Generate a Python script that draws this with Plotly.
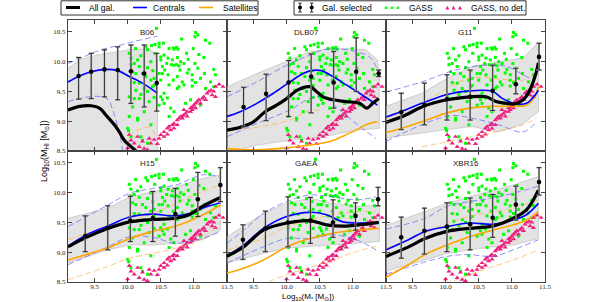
import plotly.graph_objects as go
from plotly.subplots import make_subplots

MODELS = ["B06", "DLB07", "G11", "H15", "GAEA", "XBR16"]
X_TICKS = [9.5, 10.0, 10.5, 11.0, 11.5]
X_TICKTEXT = ["9.5", "10.0", "10.5", "11.0", "11.5"]
Y_TICKS = [8.5, 9.0, 9.5, 10.0, 10.5]
Y_TICKTEXT = ["8.5", "9.0", "9.5", "10.0", "10.5"]

# ---- model curves: (log M*, log MHI) pairs ----
B06 = {
    "all": [(9.1, 9.19), (9.275, 9.25), (9.45, 9.26), (9.575, 9.22), (9.675, 9.10), (9.8, 8.94), (9.875, 8.82),
            (9.95, 8.68), (10.025, 8.6), (10.125, 8.5), (10.2, 8.42)],
    "cen": [(9.1, 9.66), (9.275, 9.76), (9.45, 9.83), (9.65, 9.87), (9.85, 9.85), (10.025, 9.75), (10.225, 9.64), (10.45, 9.47)],
    "sat": [],
    "cen_hi": [(9.1, 9.97), (9.3, 10.06), (9.5, 10.16), (9.7, 10.23), (9.9, 10.28), (10.1, 10.34), (10.3, 10.39), (10.45, 10.43)],
    "cen_lo": [(9.1, 9.33), (9.275, 9.38), (9.525, 9.42), (9.7, 9.37), (9.775, 9.19), (9.85, 8.91), (9.9, 8.68), (9.93, 8.45)],
    "sat_hi": [(9.925, 8.63), (10.075, 8.8), (10.175, 8.86), (10.3, 8.9), (10.375, 8.85), (10.425, 8.74)],
    "sat_lo": [],
    "band_hi": [(9.1, 9.89), (9.275, 10.03), (9.525, 10.11), (9.83, 10.17), (10.025, 10.2), (10.325, 10.22), (10.4, 10.14), (10.45, 10.03)],
    "band_lo": [(9.1, 8.45), (10.45, 8.45)],
}
DLB07 = {
    "all": [(9.1, 8.85), (9.3, 8.9), (9.5, 8.99), (9.675, 9.16), (9.85, 9.27), (10.0, 9.38), (10.175, 9.53), (10.35, 9.58),
            (10.45, 9.5), (10.55, 9.41), (10.7, 9.36), (10.9, 9.33), (11.1, 9.30), (11.21, 9.22), (11.3, 9.30), (11.39, 9.38)],
    "cen": [(9.1, 9.08), (9.3, 9.16), (9.55, 9.30), (9.8, 9.47), (10.05, 9.66), (10.25, 9.80), (10.37, 9.85), (10.52, 9.85),
            (10.7, 9.75), (10.9, 9.61), (11.1, 9.47), (11.25, 9.36), (11.37, 9.27)],
    "sat": [(9.1, 8.54), (9.55, 8.52), (10.05, 8.56), (10.35, 8.6), (10.65, 8.66), (10.95, 8.80), (11.25, 8.96), (11.37, 8.99)],
    "cen_hi": [(9.1, 9.41), (9.55, 9.66), (10.05, 9.97), (10.35, 10.11), (10.55, 10.2), (10.8, 10.21), (11.05, 10.17),
               (11.25, 10.08), (11.35, 9.92), (11.4, 9.69)],
    "cen_lo": [(9.1, 8.74), (9.55, 8.96), (10.05, 9.19), (10.35, 9.38), (10.55, 9.41), (10.75, 9.24), (11.05, 8.96), (11.35, 8.71)],
    "sat_hi": [(9.1, 8.85), (9.55, 8.9), (10.05, 9.02), (10.3, 9.16), (10.5, 9.19)],
    "sat_lo": [],
    "band_hi": [(9.1, 9.58), (9.55, 9.8), (10.05, 10.03), (10.35, 10.17), (10.65, 10.22), (10.95, 10.22), (11.2, 10.2),
                (11.37, 10.03), (11.4, 9.8)],
    "band_lo": [(9.1, 8.46), (9.55, 8.6), (10.05, 8.68), (10.55, 8.74), (11.05, 8.85), (11.4, 8.88)],
}
G11 = {
    "all": [(9.1, 8.98), (9.39, 9.10), (9.64, 9.24), (10.02, 9.36), (10.36, 9.41), (10.61, 9.41), (10.76, 9.33), (10.92, 9.30),
            (11.04, 9.29), (11.17, 9.36), (11.27, 9.52), (11.37, 9.83), (11.4, 9.98)],
    "cen": [(9.1, 9.07), (9.39, 9.19), (9.64, 9.30), (10.02, 9.45), (10.36, 9.51), (10.71, 9.5), (10.86, 9.38), (11.07, 9.29),
            (11.22, 9.30), (11.33, 9.41), (11.4, 9.52)],
    "sat": [(9.1, 8.81), (9.39, 8.9), (9.64, 8.99), (10.02, 9.14), (10.36, 9.22), (10.66, 9.25), (11.02, 9.25), (11.22, 9.27),
            (11.33, 9.38), (11.4, 9.58)],
    "cen_hi": [(9.1, 9.49), (9.64, 9.66), (10.15, 9.86), (10.61, 9.94), (10.92, 9.92), (11.22, 9.75), (11.3, 9.72), (11.4, 9.8)],
    "cen_lo": [(9.1, 8.66), (10.05, 9.09), (10.4, 9.05), (10.8, 8.94), (11.17, 8.82), (11.37, 8.99)],
    "sat_hi": [(9.1, 9.04), (9.64, 9.3), (10.36, 9.72), (11.17, 9.69), (11.35, 9.8)],
    "sat_lo": [(9.64, 8.57), (10.4, 8.74), (11.17, 8.94), (11.37, 9.05)],
    "band_hi": [(9.1, 9.25), (9.64, 9.47), (10.02, 9.72), (10.4, 9.92), (10.8, 10.0), (11.17, 10.06), (11.33, 10.25), (11.4, 10.31)],
    "band_lo": [(9.1, 8.72), (10.02, 8.86), (10.4, 8.91), (10.8, 8.82), (11.17, 8.96), (11.4, 9.16)],
}
H15 = {
    "all": [(9.1, 9.09), (9.375, 9.25), (9.7, 9.4), (10.03, 9.51), (10.38, 9.55), (10.73, 9.57), (10.93, 9.63), (11.13, 9.77), (11.4, 9.92)],
    "cen": [(9.1, 9.1), (9.375, 9.29), (9.7, 9.44), (10.03, 9.59), (10.38, 9.64), (10.68, 9.61), (10.93, 9.65), (11.13, 9.74), (11.4, 9.83)],
    "sat": [(9.1, 8.87), (9.375, 8.96), (9.7, 9.07), (10.03, 9.23), (10.38, 9.35), (10.73, 9.44), (11.03, 9.57), (11.4, 9.79)],
    "cen_hi": [(9.1, 9.43), (9.7, 9.79), (10.03, 9.99), (10.38, 10.07), (10.73, 10.13), (11.13, 10.3), (11.38, 10.27)],
    "cen_lo": [(9.1, 8.79), (9.7, 9.09), (10.03, 9.26), (10.38, 9.25), (10.73, 9.15), (11.13, 9.23), (11.4, 9.35)],
    "sat_hi": [(9.1, 9.21), (9.7, 9.43), (10.38, 9.65), (10.78, 9.85), (11.13, 10.02), (11.4, 10.13)],
    "sat_lo": [(9.1, 8.54), (9.7, 8.76), (10.03, 8.9), (10.38, 8.98), (10.73, 9.07), (11.13, 9.23), (11.4, 9.51)],
    "band_hi": [(9.1, 9.57), (9.7, 9.74), (10.03, 9.93), (10.38, 10.02), (10.73, 10.1), (11.13, 10.24), (11.4, 10.3)],
    "band_lo": [(9.1, 8.82), (9.7, 9.04), (10.03, 9.12), (10.38, 9.12), (10.73, 9.15), (11.13, 9.21), (11.4, 9.37)],
}
GAEA = {
    "all": [(9.1, 8.93), (9.35, 9.09), (9.65, 9.37), (10.0, 9.49), (10.35, 9.53), (10.6, 9.46), (10.9, 9.44), (11.39, 9.5)],
    "cen": [(9.1, 8.94), (9.35, 9.12), (9.65, 9.4), (10.0, 9.6), (10.35, 9.67), (10.6, 9.63), (10.85, 9.51), (11.1, 9.49), (11.39, 9.5)],
    "sat": [(9.1, 8.65), (9.35, 8.73), (9.65, 8.87), (10.0, 9.09), (10.35, 9.23), (10.7, 9.32), (11.05, 9.37), (11.39, 9.4)],
    "cen_hi": [(9.1, 9.15), (9.35, 9.37), (9.65, 9.65), (10.0, 9.85), (10.35, 9.96), (10.7, 9.93), (11.05, 9.88), (11.35, 9.93)],
    "cen_lo": [(9.1, 8.82), (9.65, 9.09), (10.0, 9.23), (10.35, 9.23), (10.7, 9.29), (11.05, 9.21), (11.35, 9.04)],
    "sat_hi": [(9.1, 9.04), (9.65, 9.23), (10.0, 9.43), (10.7, 9.63), (11.05, 9.68), (11.35, 9.68)],
    "sat_lo": [(9.6, 8.45), (10.0, 8.62), (10.7, 8.87), (11.05, 9.01), (11.35, 9.1)],
    "band_hi": [(9.1, 9.26), (9.65, 9.65), (10.0, 9.82), (10.35, 9.91), (10.7, 9.82), (11.05, 9.77), (11.4, 9.79)],
    "band_lo": [(9.1, 8.82), (9.65, 8.98), (10.0, 9.07), (10.35, 9.09), (10.7, 9.12), (11.05, 9.15), (11.4, 9.18)],
}
XBR16 = {
    "all": [(9.1, 8.93), (9.44, 9.09), (9.69, 9.23), (10.02, 9.35), (10.36, 9.4), (10.66, 9.43), (10.81, 9.47), (11.02, 9.57),
            (11.22, 9.71), (11.4, 10.04)],
    "cen": [(9.1, 9.04), (9.44, 9.21), (9.69, 9.35), (10.02, 9.43), (10.36, 9.49), (10.71, 9.47), (11.02, 9.54), (11.22, 9.63), (11.4, 9.82)],
    "sat": [(9.1, 8.58), (9.44, 8.79), (9.69, 8.96), (10.02, 9.12), (10.36, 9.26), (10.71, 9.37), (11.02, 9.46), (11.22, 9.54), (11.4, 9.68)],
    "cen_hi": [(9.1, 9.39), (9.69, 9.57), (10.02, 9.77), (10.36, 9.85), (10.71, 9.91), (11.02, 9.99), (11.4, 10.11)],
    "cen_lo": [(9.1, 8.63), (10.02, 8.93), (10.36, 8.96), (10.71, 8.93), (11.02, 9.04), (11.4, 9.21)],
    "sat_hi": [(9.1, 9.06), (9.69, 9.32), (10.02, 9.49), (10.36, 9.6), (10.71, 9.68), (11.02, 9.74), (11.4, 9.88)],
    "sat_lo": [(10.0, 8.47), (10.36, 8.62), (10.71, 8.76), (11.02, 8.87), (11.4, 9.04)],
    "band_hi": [(9.1, 9.45), (9.69, 9.68), (10.02, 9.82), (10.36, 9.93), (10.71, 10.04), (11.02, 10.13), (11.4, 10.27)],
    "band_lo": [(9.1, 8.68), (9.69, 8.87), (10.02, 8.98), (10.36, 9.04), (10.71, 9.09), (11.02, 9.12), (11.4, 9.23)],
}

# ---- "Gal. selected" medians with error bars ----
B06_SEL = {"x": [9.26, 9.45, 9.65, 9.85, 10.05, 10.25, 10.44], "y": [9.76, 9.83, 9.87, 9.86, 9.84, 9.80, 9.64],
           "hi": [10.07, 10.14, 10.2, 10.25, 10.28, 10.28, 10.14], "lo": [9.37, 9.38, 9.41, 9.36, 9.30, 9.24, 9.17]}
DLB07_SEL = {"x": [9.35, 9.69, 10.03, 10.37, 10.71, 11.05, 11.39], "y": [9.24, 9.46, 9.65, 9.75, 9.65, 9.83, 9.80],
             "hi": [9.57, 9.79, 10.02, 10.13, 10.17, 10.4, 9.86], "lo": [8.91, 9.01, 9.08, 9.14, 9.22, 9.5, 9.75]}
G11_SEL = {"x": [9.33, 9.68, 10.02, 10.37, 10.71, 11.06, 11.41], "y": [9.15, 9.27, 9.37, 9.41, 9.51, 9.62, 10.08],
           "hi": [9.47, 9.64, 9.78, 9.86, 9.94, 9.89, 10.31], "lo": [8.86, 8.94, 9.02, 9.02, 9.18, 9.46, 9.86]}
H15_SEL = {"x": [9.36, 9.70, 10.04, 10.38, 10.72, 11.06, 11.40], "y": [9.27, 9.41, 9.53, 9.57, 9.64, 9.89, 10.13],
           "hi": [9.61, 9.78, 9.94, 10.02, 10.07, 10.34, 10.42], "lo": [9.01, 9.04, 9.18, 9.18, 9.27, 9.6, 9.85]}
GAEA_SEL = {"x": [9.34, 9.68, 10.02, 10.36, 10.70, 11.04, 11.38], "y": [9.21, 9.40, 9.50, 9.53, 9.50, 9.61, 9.89],
            "hi": [9.46, 9.69, 9.93, 9.92, 9.88, 9.83, 10.09], "lo": [8.88, 9.01, 9.09, 9.15, 9.25, 9.37, 9.78]}
XBR16_SEL = {"x": [9.33, 9.68, 10.02, 10.37, 10.71, 11.06, 11.41], "y": [9.25, 9.36, 9.43, 9.47, 9.58, 9.80, 10.18],
             "hi": [9.59, 9.74, 9.83, 9.91, 9.97, 10.11, 10.42], "lo": [8.90, 8.97, 9.01, 9.04, 9.25, 9.54, 9.96]}

# ---- GASS detections (same in every panel) ----
GASS = [
    (10.435, 10.56), (11.025, 10.49), (11.06, 10.45), (11.015, 10.42), (10.815, 10.38), (11.175, 10.36), (11.24, 10.31),
    (10.415, 10.29), (10.475, 10.31), (10.54, 10.31), (10.36, 10.27), (10.275, 10.25), (10.625, 10.22), (10.69, 10.23),
    (10.74, 10.24), (10.76, 10.21), (10.70, 10.21), (10.99, 10.22), (10.41, 10.14), (10.55, 10.11), (10.89, 10.14),
    (11.075, 10.12), (10.5, 10.08), (10.61, 10.06), (10.675, 10.03), (10.75, 10.07), (10.8, 10.0), (10.915, 10.04),
    (11.15, 10.07), (10.66, 9.95), (10.7, 9.94), (10.74, 9.95), (10.775, 9.93), (10.85, 9.97), (10.525, 9.92),
    (10.59, 9.97), (11.015, 9.97), (10.56, 9.86), (10.79, 9.86), (10.925, 9.87), (11.06, 9.89), (11.3, 9.87),
    (10.475, 9.8), (10.61, 9.78), (10.75, 9.75), (10.9, 9.81), (10.975, 9.78), (11.16, 9.8), (11.325, 9.78),
    (10.4, 9.72), (10.5, 9.69), (10.69, 9.69), (10.825, 9.66), (10.975, 9.69), (11.025, 9.65), (11.1, 9.72),
    (11.25, 9.66), (10.375, 9.58), (10.625, 9.61), (10.775, 9.58), (10.85, 9.61), (10.975, 9.59), (11.175, 9.55),
    (11.3, 9.58), (10.025, 10.14), (10.05, 10.06), (10.1, 9.97), (10.15, 10.03), (10.175, 9.92), (10.075, 9.83),
    (10.125, 9.8), (10.225, 9.8), (10.275, 9.75), (10.35, 9.69), (10.175, 9.64), (10.25, 9.55), (10.125, 9.52),
    (10.3, 9.5), (10.025, 9.41), (10.175, 9.38), (10.325, 9.33), (10.075, 9.24), (10.25, 9.16), (10.025, 9.08),
    (10.15, 9.02), (10.015, 8.84), (10.05, 8.74), (10.225, 8.68), (10.3, 8.63), (10.475, 10.25), (10.5, 10.03),
    (10.525, 9.8), (10.5, 9.41), (10.55, 9.3), (10.625, 9.08), (10.475, 9.27), (10.525, 9.36), (10.6, 9.39),
    (10.65, 9.22), (10.7, 9.16), (10.875, 9.3), (10.95, 9.36), (10.825, 9.08), (11.1, 9.27), (10.0, 8.88),
    (10.15, 9.05), (10.1, 9.38), (10.35, 8.94), (10.2, 8.74), (10.55, 9.47), (10.75, 9.55), (10.05, 9.95),
    (10.2, 10.1), (10.3, 9.9), (10.35, 10.0), (10.4, 9.6), (10.1, 9.65), (10.2, 9.45), (10.4, 9.4), (10.3, 10.2),
    (10.12, 10.22), (10.38, 9.85),
]
# ---- GASS non-detections (upper limits) ----
GASS_NODET = [
    (10.025, 8.77), (10.05, 8.68), (10.1, 8.63), (10.175, 8.57), (10.225, 8.66), (10.25, 8.54), (10.325, 8.71),
    (10.35, 8.63), (10.4, 8.69), (10.15, 8.74), (10.475, 8.71), (10.5, 8.77), (10.55, 8.82), (10.6, 8.88),
    (10.625, 8.91), (10.675, 8.94), (10.7, 8.96), (10.75, 9.02), (10.775, 9.05), (10.8, 9.08), (10.84, 9.1),
    (10.875, 9.13), (10.825, 9.05), (10.9, 9.16), (10.95, 9.22), (10.975, 9.24), (11.0, 9.27), (11.025, 9.3),
    (11.05, 9.33), (10.975, 9.19), (11.075, 9.36), (11.125, 9.38), (11.15, 9.41), (11.2, 9.47), (11.225, 9.5),
    (11.26, 9.52), (11.3, 9.5), (11.325, 9.41), (11.275, 9.44), (11.025, 9.22), (10.95, 9.16), (10.9, 9.08),
    (10.75, 8.94), (10.65, 8.85), (10.55, 8.74), (10.85, 9.19), (11.175, 9.36), (11.44, 9.58), (11.33, 9.58),
    (11.38, 9.62), (10.45, 8.62), (10.3, 8.52), (10.0, 8.55), (10.6, 8.78), (10.7, 8.88), (11.1, 9.3),
]

CURVE_SETS = [B06, DLB07, G11, H15, GAEA, XBR16]
SEL_SETS = [B06_SEL, DLB07_SEL, G11_SEL, H15_SEL, GAEA_SEL, XBR16_SEL]

BLACK = "#000000"
BLUE = "#0000ff"
ORANGE = "#ffa500"
LBLUE = "rgba(90,90,255,0.75)"
LORANGE = "rgba(255,175,60,0.75)"
GREEN = "#00ff00"
PINK = "#f0207f"
SANS = "Liberation Sans, Arial, sans-serif"

W, H = 598, 302
ML, MR, MT, MB = 68, 53, 20, 20


def PX(p):
    return (p - ML) / (W - ML - MR)


def PY(p):
    return (H - MB - p) / (H - MT - MB)


def xy(pairs):
    return [p[0] for p in pairs], [p[1] for p in pairs]


fig = make_subplots(rows=2, cols=3, horizontal_spacing=0, vertical_spacing=0)

gx, gy = xy(GASS)
nx, ny = xy(GASS_NODET)

for i, (name, d, s) in enumerate(zip(MODELS, CURVE_SETS, SEL_SETS)):
    r, c = i // 3 + 1, i % 3 + 1
    hx, hy = xy(d["band_hi"])
    lx, ly = xy(d["band_lo"])
    fig.add_trace(go.Scatter(x=hx + lx[::-1], y=hy + ly[::-1], mode="lines", fill="toself",
                             fillcolor="rgba(200,200,200,0.5)", line=dict(color="rgba(170,170,170,0.7)", width=0.7),
                             hoverinfo="skip"), r, c)
    fig.add_trace(go.Scatter(x=gx, y=gy, mode="markers", name="GASS",
                             marker=dict(color=GREEN, size=3, symbol="square", line=dict(width=0))), r, c)
    fig.add_trace(go.Scatter(x=nx, y=ny, mode="markers", name="GASS, no det.",
                             marker=dict(color=PINK, size=4.6, symbol="triangle-up", line=dict(width=0))), r, c)
    for key, col in (("cen_hi", LBLUE), ("cen_lo", LBLUE), ("sat_hi", LORANGE), ("sat_lo", LORANGE)):
        if d[key]:
            x, y = xy(d[key])
            fig.add_trace(go.Scatter(x=x, y=y, mode="lines", hoverinfo="skip",
                                     line=dict(color=col, width=0.9, dash="6px,3px", shape="spline")), r, c)
    for key, col, w, lab in (("sat", ORANGE, 1.6, "Satellites"), ("cen", BLUE, 1.6, "Centrals"),
                             ("all", BLACK, 3.2, "All gal.")):
        if d[key]:
            x, y = xy(d[key])
            fig.add_trace(go.Scatter(x=x, y=y, mode="lines", name=lab,
                                     line=dict(color=col, width=w, shape="spline")), r, c)
    ep = [h - m for h, m in zip(s["hi"], s["y"])]
    em = [m - l for m, l in zip(s["y"], s["lo"])]
    fig.add_trace(go.Scatter(x=s["x"], y=s["y"], mode="markers", hoverinfo="skip",
                             marker=dict(color="rgba(0,0,0,0)", size=1),
                             error_y=dict(type="data", symmetric=False, array=ep, arrayminus=em,
                                          color="#b4b4b4", thickness=1.8, width=2.5)), r, c)
    fig.add_trace(go.Scatter(x=s["x"], y=s["y"], mode="markers", name="Gal. selected",
                             marker=dict(color=BLACK, size=4.6, symbol="circle"),
                             error_y=dict(type="data", symmetric=False, array=ep, arrayminus=em,
                                          color="#222222", thickness=0.9, width=2.5)), r, c)
    fig.add_annotation(text=name, xref="x domain" if i == 0 else f"x{i+1} domain",
                       yref="y domain" if i == 0 else f"y{i+1} domain", x=0.5, y=0.905,
                       xanchor="center", yanchor="middle",
                       showarrow=False, font=dict(family=SANS, size=8, color="#222"))

tickfont = dict(family="Liberation Serif, DejaVu Serif, serif", size=7, color="#222")
for i in range(6):
    r, c = i // 3 + 1, i % 3 + 1
    fig.update_xaxes(range=[9.1, 11.5], tickvals=X_TICKS, ticktext=X_TICKTEXT, ticks="inside", ticklen=4,
                     tickcolor="#444", showline=True, linecolor="#444", linewidth=1, mirror="ticks",
                     showgrid=False, zeroline=False, showticklabels=(r == 2), tickfont=tickfont,
                     ticklabelstandoff=-2, row=r, col=c)
    fig.update_yaxes(range=[8.5, 10.7], tickvals=Y_TICKS, ticktext=Y_TICKTEXT, ticks="inside", ticklen=4,
                     tickcolor="#444", showline=True, linecolor="#444", linewidth=1, mirror="ticks",
                     showgrid=False, zeroline=False, showticklabels=(c == 1), tickfont=tickfont, row=r, col=c)

# ---- legends (drawn as paper-space keys) ----
shapes = []
legfont = dict(family=SANS, size=8.5, color="#000")
yc = PY(7.5)
shapes.append(dict(type="rect", xref="paper", yref="paper", x0=PX(61), x1=PX(258), y0=PY(15), y1=PY(0.8),
                   line=dict(color="#333", width=1), fillcolor="white", layer="above"))
for x0, col, w, lab, tx in ((66, BLACK, 3, "All gal.", 87), (133, BLUE, 1.6, "Centrals", 151),
                            (199, ORANGE, 1.6, "Satellites", 221)):
    shapes.append(dict(type="line", xref="paper", yref="paper", x0=PX(x0), x1=PX(x0 + 14), y0=yc, y1=yc,
                       line=dict(color=col, width=w), layer="above"))
    fig.add_annotation(text=lab, xref="paper", yref="paper", x=PX(tx), y=yc, xanchor="left", yanchor="middle",
                       showarrow=False, font=legfont)
shapes.append(dict(type="rect", xref="paper", yref="paper", x0=PX(294), x1=PX(526), y0=PY(15), y1=PY(0.8),
                   line=dict(color="#333", width=1), fillcolor="white", layer="above"))
for ex in (300, 311.7):
    shapes.append(dict(type="line", xref="paper", yref="paper", x0=PX(ex), x1=PX(ex), y0=PY(3.2), y1=PY(12),
                       line=dict(color="#222", width=1), layer="above"))
    for cy in (3.2, 12):
        shapes.append(dict(type="line", xref="paper", yref="paper", x0=PX(ex - 1.6), x1=PX(ex + 1.6), y0=PY(cy),
                           y1=PY(cy), line=dict(color="#222", width=1), layer="above"))
    shapes.append(dict(type="circle", xref="paper", yref="paper", x0=PX(ex - 2), x1=PX(ex + 2), y0=PY(9.5),
                       y1=PY(5.5), line=dict(width=0), fillcolor="#000", layer="above"))
fig.add_annotation(text="Gal. selected", xref="paper", yref="paper", x=PX(320), y=yc, xanchor="left",
                   yanchor="middle", showarrow=False, font=legfont)
for gxp in (386, 392, 398):
    shapes.append(dict(type="rect", xref="paper", yref="paper", x0=PX(gxp - 1.2), x1=PX(gxp + 1.2), y0=PY(9),
                       y1=PY(6.6), line=dict(width=0), fillcolor=GREEN, layer="above"))
fig.add_annotation(text="GASS", xref="paper", yref="paper", x=PX(407), y=yc, xanchor="left",
                   yanchor="middle", showarrow=False, font=legfont)
for pxp in (447.3, 453.5, 460):
    path = f"M {PX(pxp - 2)} {PY(9.6)} L {PX(pxp + 2)} {PY(9.6)} L {PX(pxp)} {PY(5.8)} Z"
    shapes.append(dict(type="path", xref="paper", yref="paper", path=path, line=dict(width=0),
                       fillcolor=PINK, layer="above"))
fig.add_annotation(text="GASS, no det.", xref="paper", yref="paper", x=PX(469), y=yc, xanchor="left",
                   yanchor="middle", showarrow=False, font=legfont)

fig.update_layout(
    width=W, height=H,
    margin=dict(l=ML, r=MR, t=MT, b=MB),
    paper_bgcolor="white", plot_bgcolor="white",
    showlegend=False,
    shapes=shapes,
)
fig.add_annotation(text="Log<sub>10</sub>(M<sub>HI</sub> [M<sub>⊙</sub>])", xref="paper", yref="paper",
                   x=PX(44), y=PY(151), textangle=-90, showarrow=False, xanchor="center", yanchor="middle",
                   font=dict(family=SANS, size=9, color="#000"))
fig.add_annotation(text="Log<sub>10</sub>(M<sub>*</sub> [M<sub>⊙</sub>])", xref="paper", yref="paper",
                   x=PX(308), y=PY(302.5), xanchor="center", yanchor="bottom", showarrow=False, borderpad=0,
                   font=dict(family=SANS, size=8, color="#000"))

fig.write_html("out.html", config={"displayModeBar": False},
               post_script="document.body.style.margin='0px';document.body.style.padding='0px';")
